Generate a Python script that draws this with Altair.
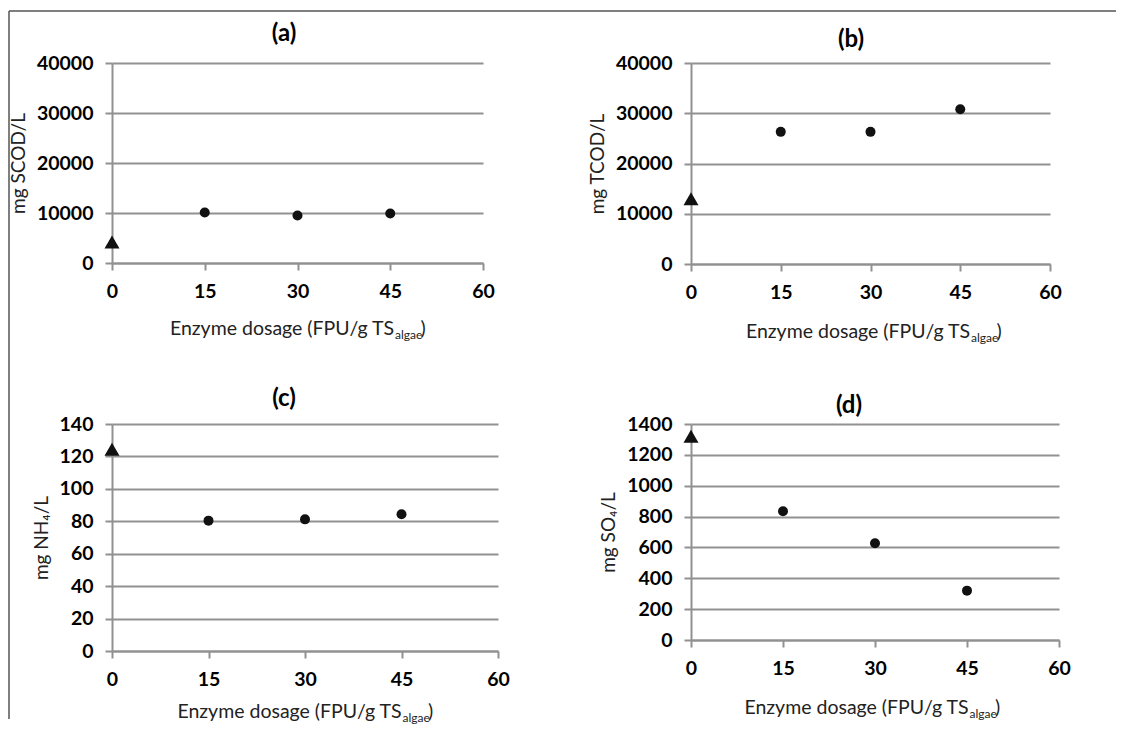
import altair as alt
import pandas as pd

# ---- data ----
dosage = [0, 15, 30, 45]
group = ["control", "enzyme", "enzyme", "enzyme"]
scod = [4200, 10100, 9500, 9900]
tcod = [13000, 26300, 26300, 30800]
nh4 = [124.5, 80.4, 81.2, 84.3]
so4 = [1320, 834, 627, 320]

panel_titles = ["(a)", "(b)", "(c)", "(d)"]
y_titles = ["mg SCOD/L", "mg TCOD/L", "mg NH\u2084/L", "mg SO\u2084/L"]
y_max = [40000, 40000, 140, 1400]
y_step = [10000, 10000, 20, 200]
x_ticks = [0, 15, 30, 45, 60]
x_title_main = "Enzyme dosage (FPU/g TS"
x_title_sub = "algae"
x_title_end = ")"

FONT = "Lato"
GRAY = "#919191"


def panel(values, i, w, h, title_x, title_y, xt_dy, xshift, frame=False):
    df = pd.DataFrame({"dosage": dosage, "value": values, "group": group})
    ticks = list(range(0, y_max[i] + 1, y_step[i]))
    x = alt.X("dosage:Q", scale=alt.Scale(domain=[0, 60], nice=False),
              axis=alt.Axis(values=x_ticks, title=None, grid=False, labelFlush=False, format="d"))
    y = alt.Y("value:Q", scale=alt.Scale(domain=[0, y_max[i]], nice=False),
              axis=alt.Axis(values=ticks, title=y_titles[i], grid=True, labelFlush=False, format="d"))
    base = alt.Chart(df).encode(x=x, y=y)
    circles = base.transform_filter(alt.datum.group == "enzyme").mark_point(
        shape="circle", filled=True, opacity=1, color="#111", size=100)
    tri = base.transform_filter(alt.datum.group == "control").mark_point(
        shape="triangle-up", filled=True, opacity=1, color="#111", size=225)
    tdf = pd.DataFrame({"t": [0]})
    cx = w / 2 + xshift
    ty = h + xt_dy
    t1 = alt.Chart(tdf).mark_text(text=x_title_main, align="right", baseline="alphabetic",
                                  font=FONT, fontSize=19.5, color="#222").encode(
        x=alt.value(cx + 96.5), y=alt.value(ty))
    t2 = alt.Chart(tdf).mark_text(text=x_title_sub, align="left", baseline="alphabetic",
                                  font=FONT, fontSize=12, color="#222").encode(
        x=alt.value(cx + 97.5), y=alt.value(ty + 4))
    t3 = alt.Chart(tdf).mark_text(text=x_title_end, align="left", baseline="alphabetic",
                                  font=FONT, fontSize=19.5, color="#222").encode(
        x=alt.value(cx + 123), y=alt.value(ty))
    ttl = alt.Chart(tdf).mark_text(text=panel_titles[i], align="center", baseline="middle",
                                   font=FONT, fontSize=24, fontWeight="bold", color="black").encode(
        x=alt.value(title_x), y=alt.value(title_y))
    layers = [circles, tri, t1, t2, t3, ttl]
    if frame:
        # figure frame (top and left border of the original figure)
        top = alt.Chart(tdf).mark_rule(color="#555", strokeWidth=1.5).encode(
            x=alt.value(-103), x2=alt.value(1004), y=alt.value(-52))
        lft = alt.Chart(tdf).mark_rule(color="#555", strokeWidth=1.5).encode(
            x=alt.value(-103), y=alt.value(-52), y2=alt.value(656))
        layers += [top, lft]
    return alt.layer(*layers).properties(width=w, height=h)


pa = panel(scod, 0, 371, 200, 172, -29, 72, 0, frame=True)
pb = panel(tcod, 1, 359, 201, 160, -23, 74, 3)
pc = panel(nh4, 2, 386, 227, 172, -25, 67, 0)
pd_ = panel(so4, 3, 368, 216, 158, -18, 74, -3)

chart = alt.concat(pa, pb, pc, pd_, columns=2, bounds="flush",
                   spacing={"row": 160, "column": 193}).properties(
    padding={"left": 0, "top": 2, "right": 0, "bottom": 0},
    background="white",
).configure_view(strokeWidth=0).configure_axis(
    labelFont=FONT, labelFontWeight="bold", labelFontSize=19.5, labelColor="black",
    labelPadding=12,
    domainColor=GRAY, domainWidth=2, gridColor=GRAY, gridWidth=2,
    tickColor=GRAY, tickWidth=2, tickSize=7,
    titleFont=FONT, titleFontWeight="normal", titleFontSize=19, titleColor="#222",
    titlePadding=8,
)

chart.save("out.html", embed_options={"renderer": "svg", "actions": False})
